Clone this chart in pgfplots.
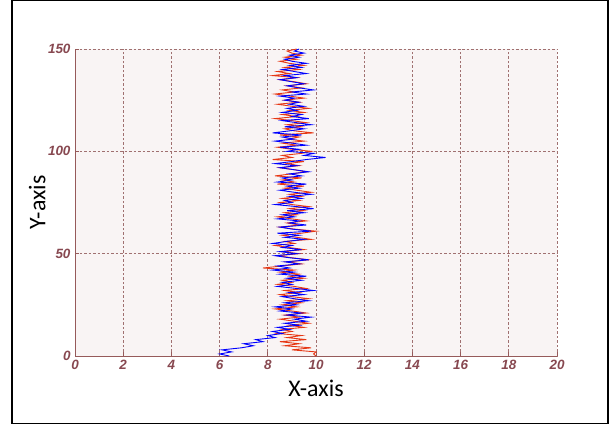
\documentclass[border=0pt]{standalone}
\usepackage{fontspec}
\setmainfont{Liberation Sans}
\newfontfamily\carlito{Carlito}
\usepackage{pgfplots}
\pgfplotsset{compat=1.18}
\definecolor{bgpink}{RGB}{249,244,244}
\definecolor{gridc}{RGB}{160,112,112}
\definecolor{axc}{RGB}{150,90,90}
\definecolor{tickc}{RGB}{135,72,80}
\definecolor{redl}{RGB}{230,55,20}
\definecolor{bluel}{RGB}{0,0,255}
\begin{document}
\begin{tikzpicture}[x=1bp,y=1bp]
\path (0,0) rectangle (610,425);
\draw[black, line width=1.3bp] (12,1.5) rectangle (608,424.3);
\begin{axis}[
  at={(75bp,69bp)}, anchor=south west,
  scale only axis, width=482bp, height=307bp,
  xmin=0, xmax=20, ymin=0, ymax=150,
  xtick={0,2,...,20}, ytick={0,50,100,150},
  axis x line*=bottom, axis y line*=left,
  axis line style={axc, line width=0.9bp, -},
  axis background/.style={fill=bgpink},
  grid=major,
  major grid style={gridc, line width=0.8bp, dash pattern=on 2.5bp off 2bp},
  tick align=inside, major tick length=4bp,
  tick style={axc, line width=0.9bp},
  /pgf/number format/assume math mode=true,
  ticklabel style={font=\fontsize{13.5}{15}\selectfont\bfseries\itshape, text=tickc},
  xticklabel style={yshift=-0.5bp},
  yticklabel style={xshift=-1bp},
  xlabel={X-axis}, ylabel={Y-axis},
  label style={font=\carlito\fontsize{24}{28}\selectfont, text=black},
  xlabel style={at={(axis description cs:0.5,0)}, anchor=north, yshift=-21bp},
  ylabel style={at={(axis description cs:0,0.5)}, anchor=south, yshift=26bp},
  clip=false,
]
\addplot[redl, line width=0.9bp] coordinates {
(10.0,0)(9.9,1)(10.0,2)(9.0,3)(9.8,4)(8.7,5)(9.3,6)(8.5,7)(9.6,8)(8.8,9)
(9.4,10)(8.4,11)(9.0,12)(8.6,13)(9.5,14)(8.9,15)(9.7,16)(9.1,17)(8.5,18)(9.3,19)
(8.7,20)(9.6,21)(9.0,22)(8.3,23)(9.2,24)(8.6,25)(9.4,26)(8.8,27)(9.7,28)(9.0,29)
(8.5,30)(9.3,31)(8.7,32)(9.6,33)(9.1,34)(8.4,35)(9.0,36)(8.6,37)(9.5,38)(8.9,39)
(9.3,40)(8.5,41)(9.1,42)(7.8,43)(8.6,44)(9.4,45)(8.8,46)(9.7,47)(9.0,48)(8.4,49)
(9.3,50)(8.6,51)(9.5,52)(8.9,53)(8.3,54)(9.1,55)(8.7,56)(9.8,57)(9.2,58)(8.6,59)
(9.4,60)(10.0,61)(9.1,62)(8.5,63)(9.3,64)(8.8,65)(9.6,66)(9.0,67)(8.4,68)(9.2,69)
(8.7,70)(9.5,71)(8.9,72)(9.7,73)(9.0,74)(8.5,75)(9.3,76)(8.6,77)(9.4,78)(8.9,79)
(9.8,80)(9.2,81)(8.7,82)(9.5,83)(8.4,84)(9.1,85)(8.6,86)(9.4,87)(8.3,88)(9.0,89)
(9.6,90)(9.1,91)(8.5,92)(9.3,93)(8.8,94)(9.5,95)(8.2,96)(9.0,97)(8.6,98)(9.4,99)
(9.8,100)(9.0,101)(8.4,102)(9.2,103)(8.6,104)(9.5,105)(8.8,106)(9.3,107)(8.5,108)(9.9,109)
(9.1,110)(8.7,111)(9.4,112)(8.8,113)(9.6,114)(9.0,115)(8.3,116)(9.2,117)(8.6,118)(9.5,119)
(8.9,120)(9.7,121)(9.0,122)(8.4,123)(9.3,124)(8.7,125)(9.5,126)(8.9,127)(8.3,128)(9.1,129)
(8.6,130)(9.4,131)(8.8,132)(9.6,133)(9.1,134)(8.5,135)(9.2,136)(8.2,137)(8.9,138)(8.4,139)
(9.3,140)(8.7,141)(9.5,142)(8.9,143)(8.5,144)(9.2,145)(8.7,146)(9.4,147)(9.0,148)(8.8,149)
(9.2,150)
};
\addplot[bluel, line width=0.9bp] coordinates {
(6.4,0)(6.0,1)(6.5,2)(6.1,3)(6.9,4)(7.4,5)(7.0,6)(7.8,7)(7.5,8)(8.3,9)
(8.0,10)(8.6,11)(8.2,12)(8.9,13)(8.4,14)(9.3,15)(8.7,16)(9.6,17)(9.1,18)(9.8,19)
(8.8,20)(9.4,21)(8.5,22)(9.0,23)(8.3,24)(9.2,25)(8.7,26)(9.7,27)(9.1,28)(8.6,29)
(9.5,30)(8.9,31)(9.9,32)(9.2,33)(8.4,34)(9.0,35)(8.6,36)(9.4,37)(8.8,38)(9.6,39)
(8.5,40)(9.1,41)(8.2,42)(8.9,43)(8.4,44)(9.3,45)(8.7,46)(9.7,47)(8.9,48)(8.3,49)
(9.2,50)(8.5,51)(9.4,52)(8.6,53)(9.0,54)(8.2,55)(8.8,56)(9.5,57)(8.7,58)(9.3,59)
(8.4,60)(9.8,61)(9.0,62)(8.5,63)(9.6,64)(8.9,65)(9.3,66)(8.4,67)(9.1,68)(8.6,69)
(9.5,70)(8.8,71)(9.9,72)(9.2,73)(8.3,74)(9.0,75)(8.7,76)(9.4,77)(8.9,78)(9.8,79)
(9.1,80)(8.5,81)(9.3,82)(8.8,83)(9.6,84)(8.4,85)(9.0,86)(8.6,87)(9.4,88)(8.9,89)
(9.7,90)(9.1,91)(8.5,92)(9.2,93)(8.3,94)(9.0,95)(9.6,96)(10.4,97)(9.5,98)(9.9,99)
(8.8,100)(9.3,101)(8.5,102)(9.6,103)(9.0,104)(8.3,105)(9.1,106)(8.6,107)(9.4,108)(8.2,109)
(8.9,110)(9.5,111)(8.7,112)(9.8,113)(9.2,114)(8.6,115)(9.7,116)(9.0,117)(9.4,118)(8.6,119)
(9.2,120)(8.8,121)(9.5,122)(8.9,123)(9.3,124)(8.7,125)(9.1,126)(8.5,127)(9.6,128)(9.0,129)
(9.9,130)(9.3,131)(8.8,132)(9.5,133)(9.0,134)(8.5,135)(9.2,136)(8.7,137)(9.6,138)(9.1,139)
(8.6,140)(9.4,141)(8.9,142)(9.6,143)(9.0,144)(8.7,145)(9.3,146)(8.9,147)(9.5,148)(9.1,149)
(9.3,150)
};
\end{axis}
\end{tikzpicture}
\end{document}
